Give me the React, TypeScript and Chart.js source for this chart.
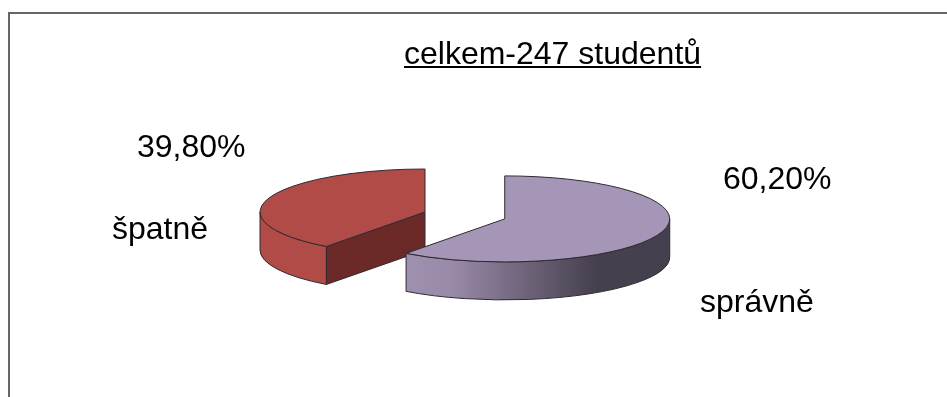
import React, { useEffect, useRef } from "react";
import { Chart, registerables } from "chart.js";

Chart.register(...registerables);

const categories = ["správně", "špatně"];
const shares = [60.2, 39.8];
const studentCount = 247;
const topColors = ["#a595b6", "#b04b47"];

const CANVAS_W = 947;
const CANVAS_H = 397;
const RX = 165;
const RY = 43;
const DEPTH = 38;
const CENTER_X = 425;
const CENTER_Y = 212;
const EXPLODE = [84, 0];
const OUTLINE = "#2e2a30";

const labelSpots = [
  { value: [723, 189], name: [700, 312] },
  { value: [137, 157], name: [112, 239] },
];

const percent = (v: number) => v.toFixed(2).replace(".", ",") + "%";

// Lays each pie slice on its side: the library's arc is painted through a squashing
// transform, then the rim and cut faces are extruded below it.
const tiltedPie = {
  id: "tiltedPie",
  beforeDatasetsDraw(chart: any) {
    const { ctx } = chart;
    const arcs = chart.getDatasetMeta(0).data;
    for (let i = arcs.length - 1; i >= 0; i--) {
      const arc = arcs[i];
      const { startAngle: a0, endAngle: a1, outerRadius: R, x, y } = arc;
      const mid = (a0 + a1) / 2;
      const cx = CENTER_X + EXPLODE[i] * Math.cos(mid);
      const cy = CENTER_Y + (EXPLODE[i] * Math.sin(mid) * RY) / RX;
      const px = (t: number) => cx + RX * Math.cos(t);
      const py = (t: number) => cy + RY * Math.sin(t);

      // Cut face, seen only when the slice's leading radius points down and to the left.
      if (Math.sin(a0) > 0 && Math.cos(a0) < 0) {
        ctx.beginPath();
        ctx.moveTo(cx, cy);
        ctx.lineTo(px(a0), py(a0));
        ctx.lineTo(px(a0), py(a0) + DEPTH);
        ctx.lineTo(cx, cy + DEPTH);
        ctx.closePath();
        ctx.fillStyle = "#6b2a28";
        ctx.fill();
        ctx.strokeStyle = OUTLINE;
        ctx.lineWidth = 1;
        ctx.stroke();
      }

      // Rim: the part of the circumference that faces the viewer.
      const from = Math.max(a0, 0);
      const to = Math.min(a1, Math.PI);
      ctx.beginPath();
      ctx.ellipse(cx, cy, RX, RY, 0, from, to);
      ctx.ellipse(cx, cy + DEPTH, RX, RY, 0, to, from, true);
      ctx.closePath();
      if (i === 0) {
        const g = ctx.createLinearGradient(px(to), 0, px(from), 0);
        g.addColorStop(0, "#a090b0");
        g.addColorStop(0.17, "#9a8aa9");
        g.addColorStop(0.72, "#45404e");
        g.addColorStop(1, "#45404e");
        ctx.fillStyle = g;
      } else {
        ctx.fillStyle = "#b04b47";
      }
      ctx.fill();
      ctx.strokeStyle = OUTLINE;
      ctx.lineWidth = 1;
      ctx.stroke();

      // Top face
      ctx.save();
      ctx.translate(cx, cy);
      ctx.scale(RX / R, RY / R);
      ctx.translate(-x, -y);
      arc.draw(ctx);
      ctx.restore();

      ctx.beginPath();
      ctx.moveTo(cx, cy);
      ctx.ellipse(cx, cy, RX, RY, 0, a0, a1);
      ctx.closePath();
      ctx.strokeStyle = OUTLINE;
      ctx.lineWidth = 1;
      ctx.stroke();
    }
    return false;
  },
};

// Frame, heading and the slice captions.
const captions = {
  id: "captions",
  afterDraw(chart: any) {
    const { ctx } = chart;
    ctx.save();
    ctx.strokeStyle = "#666666";
    ctx.lineWidth = 2;
    ctx.beginPath();
    ctx.moveTo(9, CANVAS_H);
    ctx.lineTo(9, 13);
    ctx.lineTo(CANVAS_W, 13);
    ctx.stroke();

    ctx.fillStyle = "#000";
    ctx.textBaseline = "alphabetic";
    ctx.font = '32px "Liberation Sans"';
    const title = `celkem-${studentCount} studentů`;
    ctx.fillText(title, 404, 64);
    ctx.fillRect(404, 66, ctx.measureText(title).width, 2);

    shares.forEach((v, i) => {
      const spot = labelSpots[i];
      ctx.fillText(percent(v), spot.value[0], spot.value[1]);
      ctx.fillText(categories[i], spot.name[0], spot.name[1]);
    });
    ctx.restore();
  },
};

export default function App() {
  const ref = useRef<HTMLCanvasElement>(null);
  useEffect(() => {
    document.body.style.margin = "0";
    const chart = new Chart(ref.current!, {
      type: "pie",
      data: {
        labels: categories,
        datasets: [{ data: shares, backgroundColor: topColors, borderWidth: 0 }],
      },
      options: {
        animation: false,
        responsive: false,
        plugins: { legend: { display: false }, tooltip: { enabled: false } },
      },
      plugins: [tiltedPie, captions],
    });
    return () => chart.destroy();
  }, []);
  return (
    <canvas
      ref={ref}
      width={CANVAS_W}
      height={CANVAS_H}
      style={{ display: "block", width: CANVAS_W, height: CANVAS_H }}
    />
  );
}
